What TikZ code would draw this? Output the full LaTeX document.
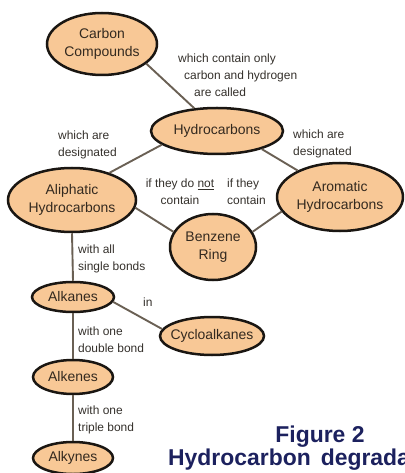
\documentclass[tikz,border=0pt]{standalone}
\usepackage{fontspec}
\setmainfont{Liberation Sans}
\usetikzlibrary{shapes.geometric}
\definecolor{peach}{HTML}{F8C896}
\definecolor{edgec}{HTML}{1A1612}
\definecolor{linec}{HTML}{6A6054}
\definecolor{txt}{HTML}{33291F}
\definecolor{lbl}{HTML}{34302B}
\definecolor{navy}{HTML}{1C215E}
\begin{document}
\begin{tikzpicture}[x=1bp,y=-1bp,
 concept/.style={ellipse, draw=edgec, line width=2.5bp, fill=peach, inner sep=-8bp, align=center, text=txt, font=\fontsize{14}{18}\selectfont},
 link/.style={draw=linec, line width=1.9bp},
 lab/.style={inner sep=0pt, text=lbl, font=\fontsize{12}{17}\selectfont},
 fig/.style={inner sep=0pt, text=navy, font=\fontsize{23}{27}\selectfont\bfseries}]
\useasboundingbox (0,0) rectangle (404,473);
\begin{scope}
\clip (0,0) rectangle (404,473);
\node[concept, minimum width=110bp, minimum height=62bp] (cc) at (102,44) {Carbon\\Compounds};
\node[concept, minimum width=132bp, minimum height=46bp] (hc) at (217,131) {Hydrocarbons};
\node[concept, minimum width=128bp, minimum height=64bp] (al) at (72,200) {Aliphatic\\Hydrocarbons};
\node[concept, minimum width=126bp, minimum height=68bp] (ar) at (340,197) {Aromatic\\Hydrocarbons};
\node[concept, minimum width=86bp, minimum height=66bp] (br) at (213,247) {Benzene\\Ring};
\node[concept, minimum width=82bp, minimum height=30bp] (ak) at (73,297) {Alkanes};
\node[concept, minimum width=104bp, minimum height=38bp] (cy) at (212,336) {Cycloalkanes};
\node[concept, minimum width=80bp, minimum height=34bp] (ae) at (73,377) {Alkenes};
\node[concept, minimum width=80bp, minimum height=32bp] (ay) at (73,458) {Alkynes};

\draw[link] (cc.-24) -- (hc.135);
\draw[link] (hc.194) -- (al.36);
\draw[link] (hc.-22) -- (ar.148);
\draw[link] (al.-7) -- (br.159);
\draw[link] (br.21) -- (ar.194);
\draw[link] (al.south) -- (ak.north);
\draw[link] (ak.-7) -- (cy.172);
\draw[link] (ak.south) -- (ae.north);
\draw[link] (ae.south) -- (ay.north);

\node[lab, anchor=west, align=left] (l1) at (178,75) {which contain only\\\hspace*{6bp}carbon and hydrogen\\\hspace*{16bp}are called};
\node[lab, anchor=west, align=left] (l2) at (58,145) {which are\\designated};
\node[lab, anchor=west, align=left] (l3) at (293,144) {which are\\designated};
\node[lab, align=center] (l4) at (180,192) {if they do \underline{not}\\contain};
\node[lab, anchor=west, align=left] (l5) at (227,192) {if they\\contain};
\node[lab, anchor=west, align=left] (l6) at (78,259) {with all\\single bonds};
\node[lab, anchor=west] (l7) at (143,302) {in};
\node[lab, anchor=west, align=left] (l8) at (78,340) {with one\\double bond};
\node[lab, anchor=west, align=left] (l9) at (78,420) {with one\\triple bond};

\node[fig, anchor=base] (f1) at (320,442) {Figure 2};
\node[fig, anchor=base west] (f2) at (168,465) {Hydrocarbon\hspace{10bp}degradation};
\end{scope}
\end{tikzpicture}
\end{document}
